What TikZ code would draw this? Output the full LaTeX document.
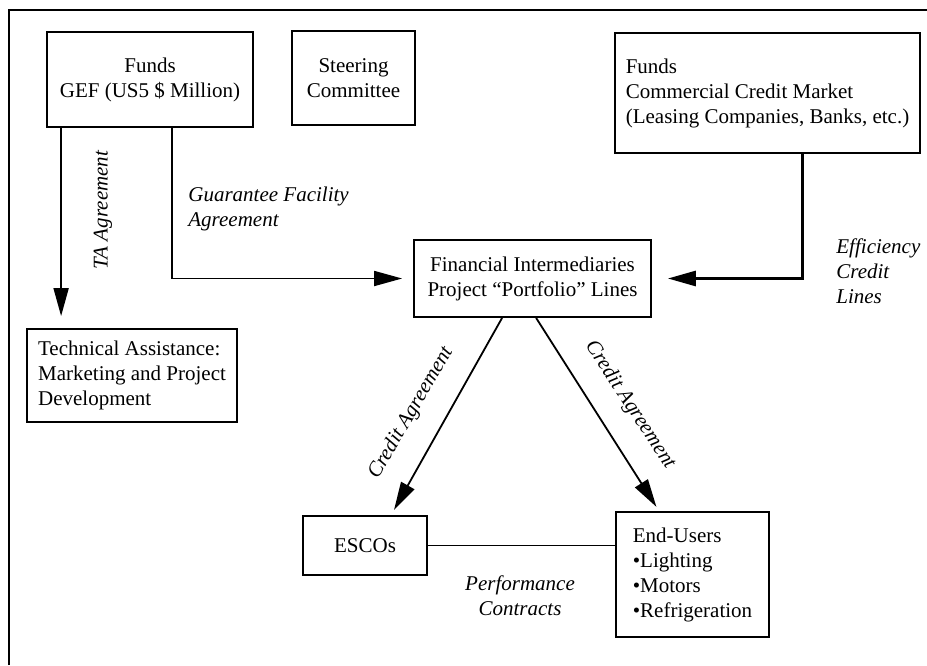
\documentclass[tikz,border=0pt]{standalone}
\usepackage{fontspec}
\setmainfont{Liberation Serif}
\usetikzlibrary{arrows.meta}

\begin{document}
\fontsize{10.5}{12.5}\selectfont
\begin{tikzpicture}[x=0.5pt, y=-0.5pt,
    box/.style={draw, line width=0.9pt, inner sep=0pt, align=center},
    arr/.style={line width=0.9pt, -{Triangle[length=14pt, width=7.5pt]}},
    lbl/.style={font=\itshape, align=left, inner sep=0pt}]
    \useasboundingbox (0,0) rectangle (927,665);
    \draw[line width=0.8pt] (9,665) -- (9,10) -- (927,10);

    \node[box, minimum width=103pt, minimum height=47.5pt] (gef) at (150,79.5) {
        Funds\\GEF (US5 \$ Million)
    };
    \node[box, minimum width=61.5pt, minimum height=47pt] (steer) at (353.5,78) {
        Steering\\Committee
    };
    \node[box, align=left, minimum width=152.5pt, minimum height=60pt] (comm) at (767.5,93) {
        Funds\\Commercial Credit Market\\(Leasing Companies, Banks, etc.)
    };
    \node[box, minimum width=118.5pt, minimum height=38.5pt] (fi) at (532.5,278.5) {
        Financial Intermediaries\\Project ``Portfolio'' Lines
    };
    \node[box, align=left, minimum width=105pt, minimum height=46.5pt] (ta) at (132,375.5) {
        Technical Assistance:\\Marketing and Project\\Development
    };
    \node[box, minimum width=62pt, minimum height=29.5pt] (esco) at (365,545.5) {ESCOs};
    \node[box, align=left, minimum width=76.5pt, minimum height=62.5pt] (enduser) at (692.5,574.5) {
        End-Users\\\textbullet Lighting\\\textbullet Motors\\\textbullet Refrigeration
    };

    \draw[arr, shorten >=6pt] ([xshift=7.5pt]gef.south west) -- ([xshift=7.5pt]gef.south west |- ta.north);
    \draw[arr, shorten >=5.5pt] ([xshift=63pt]gef.south west) |- (fi.west);
    \draw[arr, line width=1.4pt, shorten >=8pt] ([xshift=94pt]comm.south west) |- (fi.east);
    \draw[arr, shorten >=3pt] ([xshift=44.5pt]fi.south west) -- ([xshift=44.5pt]esco.north west);
    \draw[arr, shorten >=2.5pt] ([xshift=61.5pt]fi.south west) -- ([xshift=22pt]enduser.north west);
    \draw[line width=0.9pt] (esco.east) -- (esco.east -| enduser.west);

    \node[lbl, rotate=90] (taagr) at (103,210) {TA Agreement};
    \node[lbl, anchor=west] (guar) at (188,208.5) {Guarantee Facility\\Agreement};
    \node[lbl, anchor=west] (effic) at (836,271) {Efficiency\\Credit\\Lines};
    \node[lbl, rotate=59.7] (credl) at (411,413) {Credit Agreement};
    \node[lbl, rotate=-56.7] (credr) at (630,405) {Credit Agreement};
    \node[lbl, align=center] (perf) at (520,595.5) {Performance\\Contracts};
\end{tikzpicture}
\end{document}
